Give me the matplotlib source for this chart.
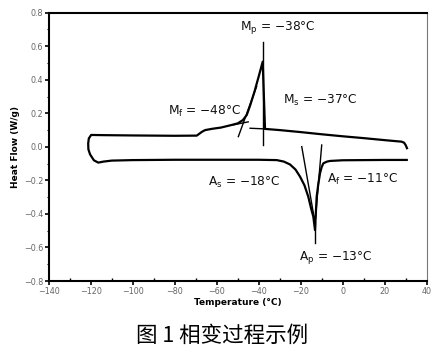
import matplotlib
matplotlib.use("Agg")
import matplotlib.pyplot as plt
from matplotlib.ticker import MultipleLocator

# DSC loop: cooling from +30 down to -121, then heating back to +30
loop_T = [30.6, 30.0, 29.2, 28.0, 20, 10, 0, -10, -20, -30, -37.0,
          -38.1, -40, -42, -44, -45.7, -47.5, -50, -53.7, -58, -62, -65.5, -67, -69.5,
          -80, -100, -115, -119.8, -120.9, -121.2, -121.1, -120.3, -118.5, -116.4,
          -114, -110, -100, -80, -60, -40, -31.4, -28, -25.1, -22.5, -20.3, -18.2,
          -16.4, -15, -14, -13.2, -12.4, -11.6, -10.8, -10, -9.2, -7.5, -6, 0, 10, 20, 30.5]
loop_HF = [-0.008, 0.010, 0.025, 0.031, 0.040, 0.052, 0.063, 0.075, 0.088, 0.100, 0.107,
           0.508, 0.42, 0.33, 0.25, 0.19, 0.16, 0.14, 0.128, 0.115, 0.108, 0.100, 0.090, 0.067,
           0.066, 0.068, 0.070, 0.071, 0.05, 0.02, -0.015, -0.045, -0.08, -0.094,
           -0.088, -0.082, -0.079, -0.077, -0.077, -0.077, -0.079, -0.088, -0.105, -0.135, -0.178, -0.23,
           -0.297, -0.37, -0.416, -0.496, -0.297, -0.22, -0.157, -0.12, -0.098, -0.088, -0.084, -0.080, -0.079, -0.078, -0.078]

# construction lines (tangents / peak markers): (T0, HF0, T1, HF1)
constr = [
    (-38.1, 0.011, -38.1, 0.627),   # Mp marker
    (-49.7, 0.061, -41.0, 0.36),    # Mf steep tangent
    (-52.2, 0.131, -45.0, 0.149),   # Mf baseline tangent
    (-44.1, 0.111, -37.0, 0.107),   # Ms baseline extension
    (-19.5, 0.001, -13.2, -0.45),   # As tangent
    (-10.0, 0.011, -13.2, -0.46),   # Af tangent
    (-13.2, -0.45, -13.2, -0.575),  # Ap marker
]

labels = ["M$_\\mathregular{p}$ = \u221238\u00b0C", "M$_\\mathregular{f}$ = \u221248\u00b0C",
          "M$_\\mathregular{s}$ = \u221237\u00b0C", "A$_\\mathregular{s}$ = \u221218\u00b0C",
          "A$_\\mathregular{f}$ = \u221211\u00b0C", "A$_\\mathregular{p}$ = \u221213\u00b0C"]
label_T = [-30.8, -83.2, -28.4, -64.1, -7.6, -20.8]
label_HF = [0.709, 0.214, 0.274, -0.213, -0.197, -0.661]
label_ha = ["center", "left", "left", "left", "left", "left"]

xticks = [-140, -120, -100, -80, -60, -40, -20, 0, 20, 40]
yticks = [-0.8, -0.6, -0.4, -0.2, 0.0, 0.2, 0.4, 0.6, 0.8]

plt.rcParams['font.family'] = ['DejaVu Sans']
fig = plt.figure(figsize=(4.4, 3.61), dpi=100)
ax = fig.add_axes([0.1107, 0.2216, 0.8591, 0.7432])

ax.plot(loop_T, loop_HF, color='black', lw=1.6, solid_joinstyle='round')
for t0, h0, t1, h1 in constr:
    ax.plot([t0, t1], [h0, h1], color='black', lw=1.0)

for s, t, h, ha in zip(labels, label_T, label_HF, label_ha):
    ax.text(t, h, s, ha=ha, va='center', fontsize=8.7, color='#111111')

ax.set_xlim(-140, 40)
ax.set_ylim(-0.8, 0.8)
ax.set_xticks(xticks)
ax.set_yticks(yticks)
ax.set_xticklabels([f"{v:d}".replace('-', '\u2212') for v in xticks])
ax.set_yticklabels([f"{v:.1f}".replace('-', '\u2212') for v in yticks])
ax.xaxis.set_minor_locator(MultipleLocator(10))
ax.yaxis.set_minor_locator(MultipleLocator(0.1))
ax.tick_params(axis='both', which='major', labelsize=5.8, labelcolor='#666666', length=3, width=1.2, pad=1)
ax.tick_params(axis='x', which='minor', direction='in', length=2.5, width=1.0)
ax.tick_params(axis='y', which='minor', direction='out', length=1.5, width=0.8)

for side in ['left', 'bottom', 'top']:
    ax.spines[side].set_linewidth(1.5)
ax.spines['right'].set_linewidth(0.8)
ax.spines['right'].set_color('#777777')

ax.set_xlabel('Temperature (\u00b0C)', fontsize=6.5, fontweight='bold', labelpad=2)
ax.set_ylabel('Heat Flow (W/g)', fontsize=6.5, fontweight='bold', labelpad=3)

fig.text(0.505, 0.07, '图 1 相变过程示例', ha='center', va='center', fontsize=15.5,
         family=['Noto Sans CJK SC', 'DejaVu Sans'])

fig.savefig('out.png', dpi=100)
